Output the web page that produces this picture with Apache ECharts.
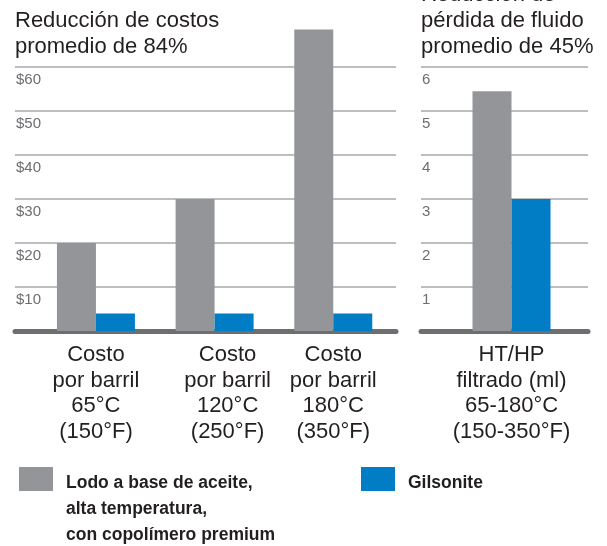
<!DOCTYPE html>
<html>
<head>
<meta charset="utf-8">
<script src="https://cdn.jsdelivr.net/npm/echarts@6/dist/echarts.min.js"></script>
<style>html,body{margin:0;padding:0;background:#fff}#c{width:607px;height:546px}</style>
</head>
<body>
<div id="c"></div>
<script>
const costCategories = ['Costo\npor barril\n65°C\n(150°F)', 'Costo\npor barril\n120°C\n(250°F)', 'Costo\npor barril\n180°C\n(350°F)'];
const costOilMud = [20, 30, 68.5];
const costGilsonite = [4, 4, 4];
const fluidCategories = ['HT/HP\nfiltrado (ml)\n65-180°C\n(150-350°F)'];
const fluidOilMud = [5.45];
const fluidGilsonite = [3];
const seriesNames = ['Lodo a base de aceite, alta temperatura, con copolímero premium', 'Gilsonite'];
const legendLines = [['Lodo a base de aceite,', 'alta temperatura,', 'con copolímero premium'], ['Gilsonite']];
const titles = ['Reducción de costos\npromedio de 84%', 'Reducción de\npérdida de fluido\npromedio de 45%'];

const FONT = '"Liberation Sans", Arial, Helvetica, sans-serif';
const GRAY = '#939598', BLUE = '#007dc5', TXT = '#231f20';
// per-label horizontal nudges (layout only)
const costLabelShift = [0, 26, 0];

const chart = echarts.init(document.getElementById('c'), null, {renderer: 'canvas'});

function bgY(gridIndex, max, prefix) {
  return {
    gridIndex, type: 'value', min: 0, max, interval: max / 6,
    axisLine: {show: false}, axisTick: {show: false},
    splitLine: {show: true, lineStyle: {color: '#a7a9ac', width: 1.5}},
    axisLabel: {
      inside: true, margin: 1, verticalAlign: 'top', padding: [5, 0, 0, 0],
      color: '#6d6e71', fontSize: 15, fontFamily: FONT,
      formatter: v => v === 0 ? '' : prefix + v
    }
  };
}
function bgX(gridIndex) {
  return {
    gridIndex, type: 'category', data: [''],
    axisLine: {show: true, lineStyle: {color: '#6d6e71', width: 5}},
    axisTick: {show: false}, axisLabel: {show: false}
  };
}
function barX(gridIndex, data, shifts) {
  return {
    gridIndex, type: 'category',
    data: data.map((d, i) => ({value: d, textStyle: {padding: [0, 0, 0, (shifts && shifts[i]) || 0]}})),
    axisLine: {show: false}, axisTick: {show: false},
    axisLabel: {color: TXT, fontSize: 22, lineHeight: 25.7, fontFamily: FONT, margin: 11, interval: 0}
  };
}
function barY(gridIndex, max) {
  return {gridIndex, type: 'value', min: 0, max, show: false, splitLine: {show: false}};
}
function legendText(lines) {
  return '{s| }\n' + lines.map(l => '{t|' + l + '}').join('\n');
}
function legendStyle(spacer) {
  return {
    fontSize: 17.5, fontWeight: 'bold', color: TXT, fontFamily: FONT, padding: [0, 0, 0, 8],
    rich: {
      s: {fontSize: 4, lineHeight: spacer},
      t: {fontSize: 17.5, fontWeight: 'bold', color: TXT, fontFamily: FONT, lineHeight: 26}
    }
  };
}

chart.setOption({
  animation: false,
  title: [
    {text: titles[0], left: 15, top: 8, padding: 0,
     textStyle: {fontSize: 22, fontWeight: 'normal', color: TXT, lineHeight: 26, fontFamily: FONT}},
    {text: titles[1], left: 421, top: -18, padding: 0,
     textStyle: {fontSize: 22, fontWeight: 'normal', color: TXT, lineHeight: 26, fontFamily: FONT}}
  ],
  legend: [
    {data: [seriesNames[0]], left: 19, top: 438, padding: 0, itemWidth: 34, itemHeight: 24, icon: 'rect',
     formatter: () => legendText(legendLines[0]), selectedMode: false, textStyle: legendStyle(60)},
    {data: [seriesNames[1]], left: 361, top: 464, padding: 0, itemWidth: 34, itemHeight: 24, icon: 'rect',
     formatter: () => legendText(legendLines[1]), selectedMode: false, textStyle: legendStyle(8)}
  ],
  grid: [
    {left: 15, right: 211, top: 67, bottom: 215},
    {left: 36.6, right: 214.4, top: 23, bottom: 215},
    {left: 421, right: 19, top: 67, bottom: 215},
    {left: 427.5, right: 11.5, top: 67, bottom: 215}
  ],
  xAxis: [bgX(0), barX(1, costCategories, costLabelShift), bgX(2), barX(3, fluidCategories)],
  yAxis: [bgY(0, 60, '$'), barY(1, 70), bgY(2, 6, ''), barY(3, 6)],
  series: [
    {name: seriesNames[0], type: 'bar', xAxisIndex: 1, yAxisIndex: 1, data: costOilMud, barWidth: 39, barGap: '0%', itemStyle: {color: GRAY}, z: 1},
    {name: seriesNames[1], type: 'bar', xAxisIndex: 1, yAxisIndex: 1, data: costGilsonite, barWidth: 39, barGap: '0%', itemStyle: {color: BLUE}, z: 1},
    {name: seriesNames[0], type: 'bar', xAxisIndex: 3, yAxisIndex: 3, data: fluidOilMud, barWidth: 39, barGap: '0%', itemStyle: {color: GRAY}, z: 1},
    {name: seriesNames[1], type: 'bar', xAxisIndex: 3, yAxisIndex: 3, data: fluidGilsonite, barWidth: 39, barGap: '0%', itemStyle: {color: BLUE}, z: 1}
  ]
});
</script>
</body>
</html>
